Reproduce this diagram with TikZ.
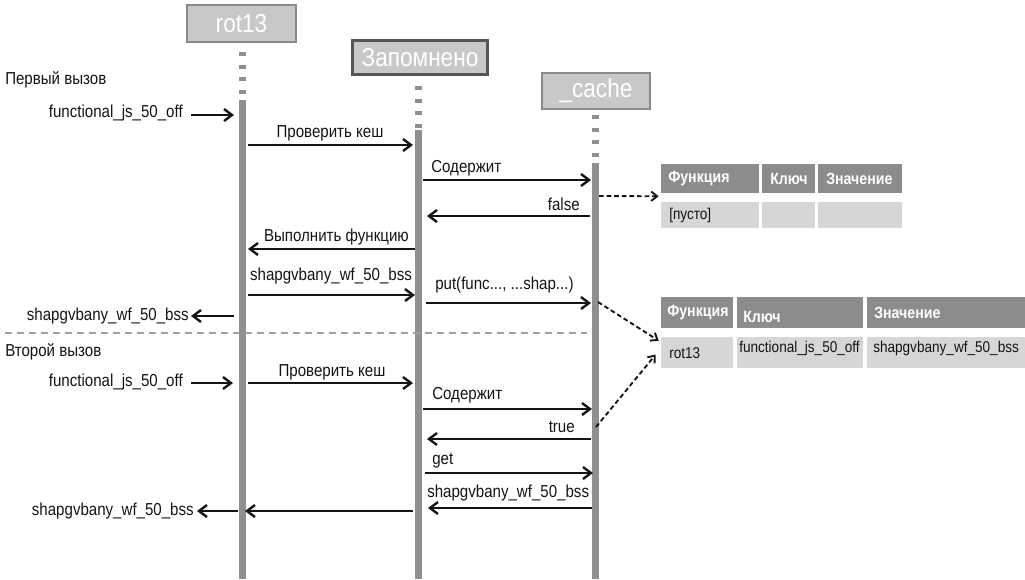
\documentclass[tikz,border=0pt]{standalone}
\usepackage{fontspec}
\setmainfont[FakeStretch=0.87]{Liberation Sans}
\usetikzlibrary{arrows.meta,calc,fit}
\definecolor{lifegray}{HTML}{8F8F90}
\definecolor{boxfill}{HTML}{C8C8C8}
\definecolor{boxedge}{HTML}{8A8A8A}
\definecolor{boxedgedark}{HTML}{555555}
\definecolor{hdrfill}{HTML}{8C8C8C}
\definecolor{rowfill}{HTML}{D6D6D6}
\definecolor{sepgray}{HTML}{A0A0A0}
\definecolor{ink}{HTML}{141414}
\begin{document}
\begin{tikzpicture}[x=0.75pt,y=-0.75pt,
  title/.style={draw=boxedge,line width=1.5pt,fill=boxfill,text=white,font=\fontsize{19.5}{21}\selectfont,inner sep=0pt},
  life/.style={draw=lifegray,line width=5.25pt},
  lifedash/.style={draw=lifegray,line width=5.25pt,dash pattern=on 3.2pt off 6.2pt},
  msg/.style={draw=ink,line width=1.8pt,-{Straight Barb[length=6pt,width=9pt]}},
  lbl/.style={font=\fontsize{13}{15}\selectfont,inner sep=0pt,text=ink},
  link/.style={draw=ink,line width=1.4pt,dash pattern=on 3.5pt off 2.2pt,-{Straight Barb[length=4.5pt,width=7pt]}},
  hdr/.style={fill=hdrfill,inner sep=0pt},
  rowcell/.style={fill=rowfill,inner sep=0pt},
  htxt/.style={font=\bfseries\fontsize{12.2}{14}\selectfont,text=white,inner sep=0pt,anchor=west},
  rtxt/.style={font=\fontsize{11.7}{13}\selectfont,text=ink,inner sep=0pt,anchor=west},
]
\useasboundingbox (0,0) rectangle (1025,579);

% lifeline anchors
\coordinate (L1) at (242,0);
\coordinate (L2) at (418,0);
\coordinate (L3) at (595,0);

% title boxes
\node[title,minimum width=81.75pt,minimum height=27.75pt] (r13) at (241.5,23.5) {rot13};
\node[title,draw=boxedgedark,line width=2.25pt,minimum width=101.25pt,minimum height=25.5pt] (mem) at (420,57.5) {Запомнено};
\node[title,minimum width=81pt,minimum height=27pt] (cache) at (596,91) {\_cache};

% lifelines
\draw[lifedash] ($(L1)+(0,52)$) -- ($(L1)+(0,96)$);
\draw[life] ($(L1)+(0,100)$) -- ($(L1)+(0,579)$);
\draw[lifedash] ($(L2)+(0,86)$) -- ($(L2)+(0,128)$);
\draw[life] ($(L2)+(0,130)$) -- ($(L2)+(0,579)$);
\draw[lifedash] ($(L3)+(0,115)$) -- ($(L3)+(0,158)$);
\draw[life] ($(L3)+(0,163)$) -- ($(L3)+(0,579)$);

% separator
\coordinate (sepA) at (5,333);
\coordinate (sepB) at (587,333);
\draw[sepgray,line width=0.8pt,dash pattern=on 5.25pt off 3.75pt] (sepA) -- (sepB);

% section labels
\node[lbl,anchor=west] (first) at (5,80) {Первый вызов};
\node[lbl,anchor=west] (second) at (5,352) {Второй вызов};

% ---- first call ----
\node[lbl,anchor=east] (in1) at (183,113) {functional\_js\_50\_off};
\draw[msg] ($(in1.east)+(8,2)$) -- ($(L1)+(-8,115)$);

\node[lbl] (m1) at (330,133) {Проверить кеш};
\draw[msg] ($(L1)+(6,145)$) -- ($(L2)+(-5,145)$);

\node[lbl,anchor=west] (m2) at (431,168) {Содержит};
\draw[msg] ($(L2)+(5,180)$) -- ($(L3)+(-4,180)$);

\node[lbl,anchor=east] (m3) at (580,204) {false};
\draw[msg] ($(L3)+(-5,216)$) -- ($(L2)+(9,216)$);

\node[lbl,anchor=east] (m4) at (409,237) {Выполнить функцию};
\draw[msg] ($(L2)+(-3,249)$) -- ($(L1)+(6,249)$);

\node[lbl] (m5) at (331,276) {shapgvbany\_wf\_50\_bss};
\draw[msg] ($(L1)+(6,295)$) -- ($(L2)+(-3,295)$);

\node[lbl,anchor=west] (m6) at (435,285) {put(func..., ...shap...)};
\draw[msg] ($(L2)+(8,303)$) -- ($(L3)+(-4,303)$);

\node[lbl,anchor=east] (out1) at (189,316) {shapgvbany\_wf\_50\_bss};
\draw[msg] ($(L1)+(-8,316)$) -- ($(out1.east)+(2,0)$);

% ---- second call ----
\node[lbl,anchor=east] (in2) at (183,382) {functional\_js\_50\_off};
\draw[msg] ($(in2.east)+(8,1)$) -- ($(L1)+(-9,383)$);

\node[lbl] (m7) at (332,372) {Проверить кеш};
\draw[msg] ($(L1)+(6,383)$) -- ($(L2)+(-5,383)$);

\node[lbl,anchor=west] (m8) at (432,395) {Содержит};
\draw[msg] ($(L2)+(5,409)$) -- ($(L3)+(-3,409)$);

\node[lbl,anchor=east] (m9) at (575,427) {true};
\draw[msg] ($(L3)+(-4,439)$) -- ($(L2)+(9,439)$);

\node[lbl,anchor=west] (m10) at (432,461) {get};
\draw[msg] ($(L2)+(7,473)$) -- ($(L3)+(-2,473)$);

\node[lbl,anchor=west] (m11) at (427,493) {shapgvbany\_wf\_50\_bss};
\draw[msg] ($(L3)+(-3,508)$) -- ($(L2)+(10,508)$);

\draw[msg] ($(L2)+(-5,511)$) -- ($(L1)+(3,511)$);
\node[lbl,anchor=east] (out2) at (194,511) {shapgvbany\_wf\_50\_bss};
\draw[msg] ($(L1)+(-4,511)$) -- ($(out2.east)+(3,0)$);

% ---- table 1 ----
\node[hdr,fit={(661,164) (759,193)}] (t1h1) {};
\node[hdr,fit={(762,164) (815,193)}] (t1h2) {};
\node[hdr,fit={(818,164) (902,193)}] (t1h3) {};
\node[rowcell,fit={(661,202) (759,228)}] (t1r1) {};
\node[rowcell,fit={(762,202) (815,228)}] (t1r2) {};
\node[rowcell,fit={(818,202) (902,228)}] (t1r3) {};
\node[htxt] (t1t1) at (668,179) {Функция};
\node[htxt] (t1t2) at (770,179) {Ключ};
\node[htxt] (t1t3) at (826,179) {Значение};
\node[rtxt] (t1v1) at (669,215) {[пусто]};

% ---- table 2 ----
\node[hdr,fit={(661,297) (733,328)}] (t2h1) {};
\node[hdr,fit={(737,297) (863,328)}] (t2h2) {};
\node[hdr,fit={(867,297) (1025,328)}] (t2h3) {};
\node[rowcell,fit={(661,337) (733,368)}] (t2r1) {};
\node[rowcell,fit={(737,337) (863,368)}] (t2r2) {};
\node[rowcell,fit={(867,337) (1025,368)}] (t2r3) {};
\node[htxt] (t2t1) at (667,313) {Функция};
\node[htxt] (t2t2) at (743,317) {Ключ};
\node[htxt] (t2t3) at (874,313) {Значение};
\node[rtxt] (t2v1) at (669,353) {rot13};
\node[rtxt] (t2v2) at (739,348) {functional\_js\_50\_off};
\node[rtxt] (t2v3) at (873,348) {shapgvbany\_wf\_50\_bss};

% ---- links to tables ----
\draw[link] ($(L3)+(4,196)$) -- ($(t1h1.south west)+(-2,3)$);
\draw[link] ($(L3)+(3,302)$) -- ($(t2r1.north west)+(-2,4)$);
\draw[link] ($(L3)+(1,427)$) -- ($(t2r1.west)+(-5,2)$);
\end{tikzpicture}
\end{document}
